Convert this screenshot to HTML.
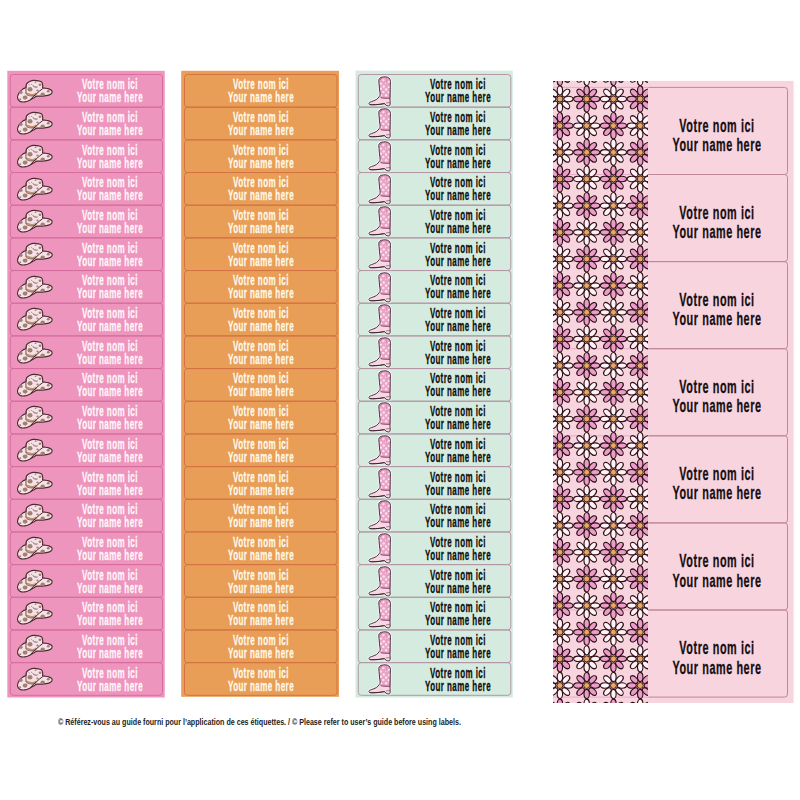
<!DOCTYPE html><html><head><meta charset="utf-8"><style>
*{margin:0;padding:0;box-sizing:border-box}
html,body{width:800px;height:800px;background:#fff;overflow:hidden;position:relative}
.sh{position:absolute}
.t{position:absolute;white-space:nowrap;font-family:"Liberation Sans",sans-serif;transform-origin:0 0;-webkit-text-stroke:0.3px currentColor}
.f{-webkit-text-stroke:0}
svg{position:absolute;overflow:visible}
</style></head><body><svg width="0" height="0" style="position:absolute"><defs>
<g id="fp"><ellipse cx="8.5" cy="0" rx="4.6" ry="2.7" transform="rotate(0)" fill="#EB9CC8" stroke="#2A1014" stroke-width="1.1"/><ellipse cx="8.5" cy="0" rx="4.6" ry="2.7" transform="rotate(45)" fill="#EB9CC8" stroke="#2A1014" stroke-width="1.1"/><ellipse cx="8.5" cy="0" rx="4.6" ry="2.7" transform="rotate(90)" fill="#EB9CC8" stroke="#2A1014" stroke-width="1.1"/><ellipse cx="8.5" cy="0" rx="4.6" ry="2.7" transform="rotate(135)" fill="#EB9CC8" stroke="#2A1014" stroke-width="1.1"/><ellipse cx="8.5" cy="0" rx="4.6" ry="2.7" transform="rotate(180)" fill="#EB9CC8" stroke="#2A1014" stroke-width="1.1"/><ellipse cx="8.5" cy="0" rx="4.6" ry="2.7" transform="rotate(225)" fill="#EB9CC8" stroke="#2A1014" stroke-width="1.1"/><ellipse cx="8.5" cy="0" rx="4.6" ry="2.7" transform="rotate(270)" fill="#EB9CC8" stroke="#2A1014" stroke-width="1.1"/><ellipse cx="8.5" cy="0" rx="4.6" ry="2.7" transform="rotate(315)" fill="#EB9CC8" stroke="#2A1014" stroke-width="1.1"/><circle r="3" fill="#EDA75C" stroke="#2A1014" stroke-width="0.9"/></g>
<g id="fw"><ellipse cx="8.5" cy="0" rx="4.6" ry="2.7" transform="rotate(0)" fill="#FFF0F5" stroke="#2A1014" stroke-width="1.1"/><ellipse cx="8.5" cy="0" rx="4.6" ry="2.7" transform="rotate(45)" fill="#FFF0F5" stroke="#2A1014" stroke-width="1.1"/><ellipse cx="8.5" cy="0" rx="4.6" ry="2.7" transform="rotate(90)" fill="#FFF0F5" stroke="#2A1014" stroke-width="1.1"/><ellipse cx="8.5" cy="0" rx="4.6" ry="2.7" transform="rotate(135)" fill="#FFF0F5" stroke="#2A1014" stroke-width="1.1"/><ellipse cx="8.5" cy="0" rx="4.6" ry="2.7" transform="rotate(180)" fill="#FFF0F5" stroke="#2A1014" stroke-width="1.1"/><ellipse cx="8.5" cy="0" rx="4.6" ry="2.7" transform="rotate(225)" fill="#FFF0F5" stroke="#2A1014" stroke-width="1.1"/><ellipse cx="8.5" cy="0" rx="4.6" ry="2.7" transform="rotate(270)" fill="#FFF0F5" stroke="#2A1014" stroke-width="1.1"/><ellipse cx="8.5" cy="0" rx="4.6" ry="2.7" transform="rotate(315)" fill="#FFF0F5" stroke="#2A1014" stroke-width="1.1"/><circle r="3" fill="#EDA75C" stroke="#2A1014" stroke-width="0.9"/></g>
<g id="hat">
<path d="M7.5,22.65 C7.58,24.07 8.54,25.44 9.75,26.15 C10.96,26.86 13.08,27.07 14.75,26.9 C16.42,26.73 18.08,25.94 19.75,25.15 C21.42,24.36 23.5,22.82 24.75,22.15 C26,21.48 26,21.32 27.25,21.15 C28.5,20.98 30.33,21.32 32.25,21.15 C34.17,20.98 37.17,20.65 38.75,20.15 C40.33,19.65 41.25,18.9 41.75,18.15 C42.25,17.4 42.25,16.36 41.75,15.65 C41.25,14.94 39.92,14.32 38.75,13.9 C37.58,13.48 35.77,13.3 34.75,13.15 C33.73,13 32.93,13.42 32.6,13 C32.27,12.58 32.89,11.62 32.75,10.65 C32.61,9.68 32.42,7.94 31.75,7.15 C31.08,6.36 30.08,6.19 28.75,5.9 C27.42,5.61 25.25,5.32 23.75,5.4 C22.25,5.48 20.92,5.86 19.75,6.4 C18.58,6.94 17.38,7.78 16.75,8.65 C16.12,9.53 16.17,10.98 16,11.65 C15.83,12.32 16.29,12.23 15.75,12.65 C15.21,13.07 13.83,13.32 12.75,14.15 C11.67,14.98 10.12,16.23 9.25,17.65 C8.38,19.07 7.42,21.23 7.5,22.65Z" fill="#F6E2E6" stroke="#4E2A32" stroke-width="1.15"/>
<g fill="#A08272">
<ellipse cx="20" cy="14.3" rx="2.5" ry="2.3"/>
<ellipse cx="15.1" cy="22.6" rx="2.4" ry="2.1"/>
<ellipse cx="11" cy="17.2" rx="1.6" ry="1.7"/>
<ellipse cx="32.75" cy="19.3" rx="2.2" ry="1.7"/>
<ellipse cx="38.3" cy="16.3" rx="1.5" ry="1.2"/>
<ellipse cx="30" cy="9.8" rx="1.4" ry="1.3"/>
<ellipse cx="10.2" cy="24.2" rx="1" ry="0.9"/>
<ellipse cx="25.5" cy="7.3" rx="1" ry="0.8"/>
<ellipse cx="27.5" cy="15.5" rx="1.2" ry="1"/>
</g>
<path d="M16.3,18.4 C18.5,19.4 21,20.1 23,19.9 C24.5,19.7 25.6,19.1 26.6,18.3" fill="none" stroke="#C09474" stroke-width="2.1"/>
<path d="M16.2,19.7 C18.5,20.7 21,21.2 23,21 C24.5,20.8 25.6,20.2 26.2,19.7" fill="none" stroke="#5A3038" stroke-width="0.6"/>
<path d="M16.25,10.5 C15.9,13.5 15.8,16.5 16,19" fill="none" stroke="#4E2A32" stroke-width="0.8"/>
<path d="M20.2,24.6 C24,21 28.5,16.5 32.75,13.6" fill="none" stroke="#4E2A32" stroke-width="1"/>
<path d="M23,10.3 C23.3,11.2 23.8,11.7 24.6,11.9 C25.8,12.2 26.8,12.2 27.6,11.9" fill="none" stroke="#4E2A32" stroke-width="0.7"/>
<path d="M18.6,9.6 L19.6,10.2 M21.3,9.2 L22.2,9.7" fill="none" stroke="#4E2A32" stroke-width="0.6"/>
</g>
<g id="boot">
<path d="M20.9,4.6 C21.12,3.9 21.7,3.2 22.2,2.8 C22.7,2.4 22.98,2.36 23.9,2.2 C24.82,2.04 26.53,1.72 27.7,1.85 C28.87,1.98 30.12,2.38 30.9,3 C31.68,3.62 32.16,4.6 32.4,5.6 C32.64,6.6 32.38,7.27 32.35,9 C32.32,10.73 32.26,13.63 32.2,16 C32.14,18.37 32.05,20.8 32,23.2 C31.95,25.6 32.53,29.2 31.9,30.4 C31.27,31.6 29.11,30.69 28.2,30.4 C27.29,30.11 27.62,28.8 26.45,28.65 C25.28,28.5 23.18,29.31 21.2,29.5 C19.22,29.69 16.17,29.78 14.6,29.8 C13.03,29.82 12.41,29.78 11.8,29.6 C11.19,29.42 11,29.07 10.95,28.7 C10.9,28.33 11.07,27.75 11.5,27.4 C11.93,27.05 12.37,27.07 13.5,26.6 C14.63,26.13 17,25.45 18.3,24.6 C19.6,23.75 20.67,22.37 21.3,21.5 C21.93,20.63 22.05,20.48 22.1,19.4 C22.15,18.32 21.8,17.07 21.6,15 C21.4,12.93 21.02,8.73 20.9,7 C20.78,5.27 20.68,5.3 20.9,4.6Z" fill="none" stroke="#F2FBF6" stroke-width="2.4"/>
<path d="M20.9,4.6 C21.12,3.9 21.7,3.2 22.2,2.8 C22.7,2.4 22.98,2.36 23.9,2.2 C24.82,2.04 26.53,1.72 27.7,1.85 C28.87,1.98 30.12,2.38 30.9,3 C31.68,3.62 32.16,4.6 32.4,5.6 C32.64,6.6 32.38,7.27 32.35,9 C32.32,10.73 32.26,13.63 32.2,16 C32.14,18.37 32.05,20.8 32,23.2 C31.95,25.6 32.53,29.2 31.9,30.4 C31.27,31.6 29.11,30.69 28.2,30.4 C27.29,30.11 27.62,28.8 26.45,28.65 C25.28,28.5 23.18,29.31 21.2,29.5 C19.22,29.69 16.17,29.78 14.6,29.8 C13.03,29.82 12.41,29.78 11.8,29.6 C11.19,29.42 11,29.07 10.95,28.7 C10.9,28.33 11.07,27.75 11.5,27.4 C11.93,27.05 12.37,27.07 13.5,26.6 C14.63,26.13 17,25.45 18.3,24.6 C19.6,23.75 20.67,22.37 21.3,21.5 C21.93,20.63 22.05,20.48 22.1,19.4 C22.15,18.32 21.8,17.07 21.6,15 C21.4,12.93 21.02,8.73 20.9,7 C20.78,5.27 20.68,5.3 20.9,4.6Z" fill="#F8D6E4"/>
<path d="M20.9,4.6 C21.12,3.9 21.7,3.2 22.2,2.8 C22.7,2.4 22.98,2.36 23.9,2.2 C24.82,2.04 26.53,1.72 27.7,1.85 C28.87,1.98 30.12,2.38 30.9,3 C31.68,3.62 32.16,4.6 32.4,5.6 C32.64,6.6 32.38,7.27 32.35,9 C32.32,10.73 32.26,13.63 32.2,16 C32.14,18.37 33.55,22.07 32,23.2 C30.45,24.33 24.55,23.43 22.9,22.8 C21.25,22.17 22.32,20.7 22.1,19.4 C21.88,18.1 21.8,17.07 21.6,15 C21.4,12.93 21.02,8.73 20.9,7 C20.78,5.27 20.68,5.3 20.9,4.6Z" fill="#E9A3C5"/>
<g fill="#FAE2EE"><circle cx="22.9" cy="8.6" r="1.2"/><circle cx="25.4" cy="5.2" r="1.1"/><circle cx="30.9" cy="6.8" r="1.1"/><circle cx="25.7" cy="11.4" r="1.25"/><circle cx="28.4" cy="8.4" r="1.1"/><circle cx="30.9" cy="12.2" r="1.1"/><circle cx="22.9" cy="13.8" r="1.2"/><circle cx="28.1" cy="14.6" r="1.25"/><circle cx="25.3" cy="17.1" r="1.25"/><circle cx="30.5" cy="17.4" r="1.1"/><circle cx="23.3" cy="20.3" r="1"/><circle cx="28.1" cy="20.3" r="1.2"/></g>
<path d="M28.4,3.2 L28.7,10.2" stroke="#D48AB0" stroke-width="0.7"/>
<path d="M21.8,4.6 L23.6,3.4" stroke="#5A3040" stroke-width="0.6"/>
<path d="M22.7,22.7 C25,23.2 29,23.3 32,23.3" fill="none" stroke="#6E3A52" stroke-width="0.9"/>
<path d="M28,27.9 L32.1,27.5" stroke="#6A4858" stroke-width="0.6"/>
<path d="M26.45,28.65 L28.2,30.4" stroke="#4A2E3C" stroke-width="0.6"/>
<path d="M20.9,4.6 C21.12,3.9 21.7,3.2 22.2,2.8 C22.7,2.4 22.98,2.36 23.9,2.2 C24.82,2.04 26.53,1.72 27.7,1.85 C28.87,1.98 30.12,2.38 30.9,3 C31.68,3.62 32.16,4.6 32.4,5.6 C32.64,6.6 32.38,7.27 32.35,9 C32.32,10.73 32.26,13.63 32.2,16 C32.14,18.37 32.05,20.8 32,23.2 C31.95,25.6 32.53,29.2 31.9,30.4 C31.27,31.6 29.11,30.69 28.2,30.4 C27.29,30.11 27.62,28.8 26.45,28.65 C25.28,28.5 23.18,29.31 21.2,29.5 C19.22,29.69 16.17,29.78 14.6,29.8 C13.03,29.82 12.41,29.78 11.8,29.6 C11.19,29.42 11,29.07 10.95,28.7 C10.9,28.33 11.07,27.75 11.5,27.4 C11.93,27.05 12.37,27.07 13.5,26.6 C14.63,26.13 17,25.45 18.3,24.6 C19.6,23.75 20.67,22.37 21.3,21.5 C21.93,20.63 22.05,20.48 22.1,19.4 C22.15,18.32 21.8,17.07 21.6,15 C21.4,12.93 21.02,8.73 20.9,7 C20.78,5.27 20.68,5.3 20.9,4.6Z" fill="none" stroke="#45283A" stroke-width="0.95"/>
<path d="M11.8,29.6 C15,29.9 20,29.6 26.45,28.65" fill="none" stroke="#2E1A22" stroke-width="0.8"/>
</g>
</defs></svg><svg style="left:0;top:0" width="800" height="800"><rect x="7.3" y="70.8" width="157.45" height="626.7" fill="#EE95BE"/><rect x="10.25" y="74.5" width="152.25" height="32.67" rx="3" fill="none" stroke="#D86C9E" stroke-width="1"/><rect x="10.25" y="107.17" width="152.25" height="32.67" rx="3" fill="none" stroke="#D86C9E" stroke-width="1"/><rect x="10.25" y="139.85" width="152.25" height="32.67" rx="3" fill="none" stroke="#D86C9E" stroke-width="1"/><rect x="10.25" y="172.52" width="152.25" height="32.67" rx="3" fill="none" stroke="#D86C9E" stroke-width="1"/><rect x="10.25" y="205.19" width="152.25" height="32.67" rx="3" fill="none" stroke="#D86C9E" stroke-width="1"/><rect x="10.25" y="237.87" width="152.25" height="32.67" rx="3" fill="none" stroke="#D86C9E" stroke-width="1"/><rect x="10.25" y="270.54" width="152.25" height="32.67" rx="3" fill="none" stroke="#D86C9E" stroke-width="1"/><rect x="10.25" y="303.22" width="152.25" height="32.67" rx="3" fill="none" stroke="#D86C9E" stroke-width="1"/><rect x="10.25" y="335.89" width="152.25" height="32.67" rx="3" fill="none" stroke="#D86C9E" stroke-width="1"/><rect x="10.25" y="368.56" width="152.25" height="32.67" rx="3" fill="none" stroke="#D86C9E" stroke-width="1"/><rect x="10.25" y="401.24" width="152.25" height="32.67" rx="3" fill="none" stroke="#D86C9E" stroke-width="1"/><rect x="10.25" y="433.91" width="152.25" height="32.67" rx="3" fill="none" stroke="#D86C9E" stroke-width="1"/><rect x="10.25" y="466.58" width="152.25" height="32.67" rx="3" fill="none" stroke="#D86C9E" stroke-width="1"/><rect x="10.25" y="499.26" width="152.25" height="32.67" rx="3" fill="none" stroke="#D86C9E" stroke-width="1"/><rect x="10.25" y="531.93" width="152.25" height="32.67" rx="3" fill="none" stroke="#D86C9E" stroke-width="1"/><rect x="10.25" y="564.61" width="152.25" height="32.67" rx="3" fill="none" stroke="#D86C9E" stroke-width="1"/><rect x="10.25" y="597.28" width="152.25" height="32.67" rx="3" fill="none" stroke="#D86C9E" stroke-width="1"/><rect x="10.25" y="629.95" width="152.25" height="32.67" rx="3" fill="none" stroke="#D86C9E" stroke-width="1"/><rect x="10.25" y="662.63" width="152.25" height="32.67" rx="3" fill="none" stroke="#D86C9E" stroke-width="1"/><rect x="181.2" y="70.8" width="157.8" height="626" fill="#E89E56"/><rect x="184.5" y="74.5" width="152.5" height="32.67" rx="3" fill="none" stroke="#D47244" stroke-width="1"/><rect x="184.5" y="107.17" width="152.5" height="32.67" rx="3" fill="none" stroke="#D47244" stroke-width="1"/><rect x="184.5" y="139.85" width="152.5" height="32.67" rx="3" fill="none" stroke="#D47244" stroke-width="1"/><rect x="184.5" y="172.52" width="152.5" height="32.67" rx="3" fill="none" stroke="#D47244" stroke-width="1"/><rect x="184.5" y="205.19" width="152.5" height="32.67" rx="3" fill="none" stroke="#D47244" stroke-width="1"/><rect x="184.5" y="237.87" width="152.5" height="32.67" rx="3" fill="none" stroke="#D47244" stroke-width="1"/><rect x="184.5" y="270.54" width="152.5" height="32.67" rx="3" fill="none" stroke="#D47244" stroke-width="1"/><rect x="184.5" y="303.22" width="152.5" height="32.67" rx="3" fill="none" stroke="#D47244" stroke-width="1"/><rect x="184.5" y="335.89" width="152.5" height="32.67" rx="3" fill="none" stroke="#D47244" stroke-width="1"/><rect x="184.5" y="368.56" width="152.5" height="32.67" rx="3" fill="none" stroke="#D47244" stroke-width="1"/><rect x="184.5" y="401.24" width="152.5" height="32.67" rx="3" fill="none" stroke="#D47244" stroke-width="1"/><rect x="184.5" y="433.91" width="152.5" height="32.67" rx="3" fill="none" stroke="#D47244" stroke-width="1"/><rect x="184.5" y="466.58" width="152.5" height="32.67" rx="3" fill="none" stroke="#D47244" stroke-width="1"/><rect x="184.5" y="499.26" width="152.5" height="32.67" rx="3" fill="none" stroke="#D47244" stroke-width="1"/><rect x="184.5" y="531.93" width="152.5" height="32.67" rx="3" fill="none" stroke="#D47244" stroke-width="1"/><rect x="184.5" y="564.61" width="152.5" height="32.67" rx="3" fill="none" stroke="#D47244" stroke-width="1"/><rect x="184.5" y="597.28" width="152.5" height="32.67" rx="3" fill="none" stroke="#D47244" stroke-width="1"/><rect x="184.5" y="629.95" width="152.5" height="32.67" rx="3" fill="none" stroke="#D47244" stroke-width="1"/><rect x="184.5" y="662.63" width="152.5" height="32.67" rx="3" fill="none" stroke="#D47244" stroke-width="1"/><rect x="355.5" y="70.6" width="157.3" height="626.9" fill="#D6EBE0"/><rect x="358.3" y="74.5" width="152.5" height="32.67" rx="3" fill="none" stroke="#B496A6" stroke-width="1"/><rect x="358.3" y="107.17" width="152.5" height="32.67" rx="3" fill="none" stroke="#B496A6" stroke-width="1"/><rect x="358.3" y="139.85" width="152.5" height="32.67" rx="3" fill="none" stroke="#B496A6" stroke-width="1"/><rect x="358.3" y="172.52" width="152.5" height="32.67" rx="3" fill="none" stroke="#B496A6" stroke-width="1"/><rect x="358.3" y="205.19" width="152.5" height="32.67" rx="3" fill="none" stroke="#B496A6" stroke-width="1"/><rect x="358.3" y="237.87" width="152.5" height="32.67" rx="3" fill="none" stroke="#B496A6" stroke-width="1"/><rect x="358.3" y="270.54" width="152.5" height="32.67" rx="3" fill="none" stroke="#B496A6" stroke-width="1"/><rect x="358.3" y="303.22" width="152.5" height="32.67" rx="3" fill="none" stroke="#B496A6" stroke-width="1"/><rect x="358.3" y="335.89" width="152.5" height="32.67" rx="3" fill="none" stroke="#B496A6" stroke-width="1"/><rect x="358.3" y="368.56" width="152.5" height="32.67" rx="3" fill="none" stroke="#B496A6" stroke-width="1"/><rect x="358.3" y="401.24" width="152.5" height="32.67" rx="3" fill="none" stroke="#B496A6" stroke-width="1"/><rect x="358.3" y="433.91" width="152.5" height="32.67" rx="3" fill="none" stroke="#B496A6" stroke-width="1"/><rect x="358.3" y="466.58" width="152.5" height="32.67" rx="3" fill="none" stroke="#B496A6" stroke-width="1"/><rect x="358.3" y="499.26" width="152.5" height="32.67" rx="3" fill="none" stroke="#B496A6" stroke-width="1"/><rect x="358.3" y="531.93" width="152.5" height="32.67" rx="3" fill="none" stroke="#B496A6" stroke-width="1"/><rect x="358.3" y="564.61" width="152.5" height="32.67" rx="3" fill="none" stroke="#B496A6" stroke-width="1"/><rect x="358.3" y="597.28" width="152.5" height="32.67" rx="3" fill="none" stroke="#B496A6" stroke-width="1"/><rect x="358.3" y="629.95" width="152.5" height="32.67" rx="3" fill="none" stroke="#B496A6" stroke-width="1"/><rect x="358.3" y="662.63" width="152.5" height="32.67" rx="3" fill="none" stroke="#B496A6" stroke-width="1"/><rect x="553" y="80.9" width="240.6" height="622.1" fill="#F8D4DF"/></svg><svg style="left:10.25px;top:74.5px" width="48" height="34"><use href="#hat"/></svg><div class="t" style="left:109.5px;top:77.43px;font-size:14.5px;line-height:14.5px;color:#FFF6FA;font-weight:bold;letter-spacing:0.8px;transform:scaleX(0.552) translateX(-50%)">Votre nom ici</div><div class="t" style="left:109.5px;top:90.43px;font-size:14.5px;line-height:14.5px;color:#FFF6FA;font-weight:bold;letter-spacing:0.8px;transform:scaleX(0.552) translateX(-50%)">Your name here</div><svg style="left:10.25px;top:107.17px" width="48" height="34"><use href="#hat"/></svg><div class="t" style="left:109.5px;top:110.1px;font-size:14.5px;line-height:14.5px;color:#FFF6FA;font-weight:bold;letter-spacing:0.8px;transform:scaleX(0.552) translateX(-50%)">Votre nom ici</div><div class="t" style="left:109.5px;top:123.1px;font-size:14.5px;line-height:14.5px;color:#FFF6FA;font-weight:bold;letter-spacing:0.8px;transform:scaleX(0.552) translateX(-50%)">Your name here</div><svg style="left:10.25px;top:139.85px" width="48" height="34"><use href="#hat"/></svg><div class="t" style="left:109.5px;top:142.77px;font-size:14.5px;line-height:14.5px;color:#FFF6FA;font-weight:bold;letter-spacing:0.8px;transform:scaleX(0.552) translateX(-50%)">Votre nom ici</div><div class="t" style="left:109.5px;top:155.77px;font-size:14.5px;line-height:14.5px;color:#FFF6FA;font-weight:bold;letter-spacing:0.8px;transform:scaleX(0.552) translateX(-50%)">Your name here</div><svg style="left:10.25px;top:172.52px" width="48" height="34"><use href="#hat"/></svg><div class="t" style="left:109.5px;top:175.45px;font-size:14.5px;line-height:14.5px;color:#FFF6FA;font-weight:bold;letter-spacing:0.8px;transform:scaleX(0.552) translateX(-50%)">Votre nom ici</div><div class="t" style="left:109.5px;top:188.45px;font-size:14.5px;line-height:14.5px;color:#FFF6FA;font-weight:bold;letter-spacing:0.8px;transform:scaleX(0.552) translateX(-50%)">Your name here</div><svg style="left:10.25px;top:205.19px" width="48" height="34"><use href="#hat"/></svg><div class="t" style="left:109.5px;top:208.12px;font-size:14.5px;line-height:14.5px;color:#FFF6FA;font-weight:bold;letter-spacing:0.8px;transform:scaleX(0.552) translateX(-50%)">Votre nom ici</div><div class="t" style="left:109.5px;top:221.12px;font-size:14.5px;line-height:14.5px;color:#FFF6FA;font-weight:bold;letter-spacing:0.8px;transform:scaleX(0.552) translateX(-50%)">Your name here</div><svg style="left:10.25px;top:237.87px" width="48" height="34"><use href="#hat"/></svg><div class="t" style="left:109.5px;top:240.79px;font-size:14.5px;line-height:14.5px;color:#FFF6FA;font-weight:bold;letter-spacing:0.8px;transform:scaleX(0.552) translateX(-50%)">Votre nom ici</div><div class="t" style="left:109.5px;top:253.79px;font-size:14.5px;line-height:14.5px;color:#FFF6FA;font-weight:bold;letter-spacing:0.8px;transform:scaleX(0.552) translateX(-50%)">Your name here</div><svg style="left:10.25px;top:270.54px" width="48" height="34"><use href="#hat"/></svg><div class="t" style="left:109.5px;top:273.47px;font-size:14.5px;line-height:14.5px;color:#FFF6FA;font-weight:bold;letter-spacing:0.8px;transform:scaleX(0.552) translateX(-50%)">Votre nom ici</div><div class="t" style="left:109.5px;top:286.47px;font-size:14.5px;line-height:14.5px;color:#FFF6FA;font-weight:bold;letter-spacing:0.8px;transform:scaleX(0.552) translateX(-50%)">Your name here</div><svg style="left:10.25px;top:303.22px" width="48" height="34"><use href="#hat"/></svg><div class="t" style="left:109.5px;top:306.14px;font-size:14.5px;line-height:14.5px;color:#FFF6FA;font-weight:bold;letter-spacing:0.8px;transform:scaleX(0.552) translateX(-50%)">Votre nom ici</div><div class="t" style="left:109.5px;top:319.14px;font-size:14.5px;line-height:14.5px;color:#FFF6FA;font-weight:bold;letter-spacing:0.8px;transform:scaleX(0.552) translateX(-50%)">Your name here</div><svg style="left:10.25px;top:335.89px" width="48" height="34"><use href="#hat"/></svg><div class="t" style="left:109.5px;top:338.82px;font-size:14.5px;line-height:14.5px;color:#FFF6FA;font-weight:bold;letter-spacing:0.8px;transform:scaleX(0.552) translateX(-50%)">Votre nom ici</div><div class="t" style="left:109.5px;top:351.82px;font-size:14.5px;line-height:14.5px;color:#FFF6FA;font-weight:bold;letter-spacing:0.8px;transform:scaleX(0.552) translateX(-50%)">Your name here</div><svg style="left:10.25px;top:368.56px" width="48" height="34"><use href="#hat"/></svg><div class="t" style="left:109.5px;top:371.49px;font-size:14.5px;line-height:14.5px;color:#FFF6FA;font-weight:bold;letter-spacing:0.8px;transform:scaleX(0.552) translateX(-50%)">Votre nom ici</div><div class="t" style="left:109.5px;top:384.49px;font-size:14.5px;line-height:14.5px;color:#FFF6FA;font-weight:bold;letter-spacing:0.8px;transform:scaleX(0.552) translateX(-50%)">Your name here</div><svg style="left:10.25px;top:401.24px" width="48" height="34"><use href="#hat"/></svg><div class="t" style="left:109.5px;top:404.16px;font-size:14.5px;line-height:14.5px;color:#FFF6FA;font-weight:bold;letter-spacing:0.8px;transform:scaleX(0.552) translateX(-50%)">Votre nom ici</div><div class="t" style="left:109.5px;top:417.16px;font-size:14.5px;line-height:14.5px;color:#FFF6FA;font-weight:bold;letter-spacing:0.8px;transform:scaleX(0.552) translateX(-50%)">Your name here</div><svg style="left:10.25px;top:433.91px" width="48" height="34"><use href="#hat"/></svg><div class="t" style="left:109.5px;top:436.84px;font-size:14.5px;line-height:14.5px;color:#FFF6FA;font-weight:bold;letter-spacing:0.8px;transform:scaleX(0.552) translateX(-50%)">Votre nom ici</div><div class="t" style="left:109.5px;top:449.84px;font-size:14.5px;line-height:14.5px;color:#FFF6FA;font-weight:bold;letter-spacing:0.8px;transform:scaleX(0.552) translateX(-50%)">Your name here</div><svg style="left:10.25px;top:466.58px" width="48" height="34"><use href="#hat"/></svg><div class="t" style="left:109.5px;top:469.51px;font-size:14.5px;line-height:14.5px;color:#FFF6FA;font-weight:bold;letter-spacing:0.8px;transform:scaleX(0.552) translateX(-50%)">Votre nom ici</div><div class="t" style="left:109.5px;top:482.51px;font-size:14.5px;line-height:14.5px;color:#FFF6FA;font-weight:bold;letter-spacing:0.8px;transform:scaleX(0.552) translateX(-50%)">Your name here</div><svg style="left:10.25px;top:499.26px" width="48" height="34"><use href="#hat"/></svg><div class="t" style="left:109.5px;top:502.18px;font-size:14.5px;line-height:14.5px;color:#FFF6FA;font-weight:bold;letter-spacing:0.8px;transform:scaleX(0.552) translateX(-50%)">Votre nom ici</div><div class="t" style="left:109.5px;top:515.18px;font-size:14.5px;line-height:14.5px;color:#FFF6FA;font-weight:bold;letter-spacing:0.8px;transform:scaleX(0.552) translateX(-50%)">Your name here</div><svg style="left:10.25px;top:531.93px" width="48" height="34"><use href="#hat"/></svg><div class="t" style="left:109.5px;top:534.86px;font-size:14.5px;line-height:14.5px;color:#FFF6FA;font-weight:bold;letter-spacing:0.8px;transform:scaleX(0.552) translateX(-50%)">Votre nom ici</div><div class="t" style="left:109.5px;top:547.86px;font-size:14.5px;line-height:14.5px;color:#FFF6FA;font-weight:bold;letter-spacing:0.8px;transform:scaleX(0.552) translateX(-50%)">Your name here</div><svg style="left:10.25px;top:564.61px" width="48" height="34"><use href="#hat"/></svg><div class="t" style="left:109.5px;top:567.53px;font-size:14.5px;line-height:14.5px;color:#FFF6FA;font-weight:bold;letter-spacing:0.8px;transform:scaleX(0.552) translateX(-50%)">Votre nom ici</div><div class="t" style="left:109.5px;top:580.53px;font-size:14.5px;line-height:14.5px;color:#FFF6FA;font-weight:bold;letter-spacing:0.8px;transform:scaleX(0.552) translateX(-50%)">Your name here</div><svg style="left:10.25px;top:597.28px" width="48" height="34"><use href="#hat"/></svg><div class="t" style="left:109.5px;top:600.2px;font-size:14.5px;line-height:14.5px;color:#FFF6FA;font-weight:bold;letter-spacing:0.8px;transform:scaleX(0.552) translateX(-50%)">Votre nom ici</div><div class="t" style="left:109.5px;top:613.2px;font-size:14.5px;line-height:14.5px;color:#FFF6FA;font-weight:bold;letter-spacing:0.8px;transform:scaleX(0.552) translateX(-50%)">Your name here</div><svg style="left:10.25px;top:629.95px" width="48" height="34"><use href="#hat"/></svg><div class="t" style="left:109.5px;top:632.88px;font-size:14.5px;line-height:14.5px;color:#FFF6FA;font-weight:bold;letter-spacing:0.8px;transform:scaleX(0.552) translateX(-50%)">Votre nom ici</div><div class="t" style="left:109.5px;top:645.88px;font-size:14.5px;line-height:14.5px;color:#FFF6FA;font-weight:bold;letter-spacing:0.8px;transform:scaleX(0.552) translateX(-50%)">Your name here</div><svg style="left:10.25px;top:662.63px" width="48" height="34"><use href="#hat"/></svg><div class="t" style="left:109.5px;top:665.55px;font-size:14.5px;line-height:14.5px;color:#FFF6FA;font-weight:bold;letter-spacing:0.8px;transform:scaleX(0.552) translateX(-50%)">Votre nom ici</div><div class="t" style="left:109.5px;top:678.55px;font-size:14.5px;line-height:14.5px;color:#FFF6FA;font-weight:bold;letter-spacing:0.8px;transform:scaleX(0.552) translateX(-50%)">Your name here</div><div class="t" style="left:260.8px;top:77.43px;font-size:14.5px;line-height:14.5px;color:#FFF8EA;font-weight:bold;letter-spacing:0.8px;transform:scaleX(0.552) translateX(-50%)">Votre nom ici</div><div class="t" style="left:260.8px;top:90.43px;font-size:14.5px;line-height:14.5px;color:#FFF8EA;font-weight:bold;letter-spacing:0.8px;transform:scaleX(0.552) translateX(-50%)">Your name here</div><div class="t" style="left:260.8px;top:110.1px;font-size:14.5px;line-height:14.5px;color:#FFF8EA;font-weight:bold;letter-spacing:0.8px;transform:scaleX(0.552) translateX(-50%)">Votre nom ici</div><div class="t" style="left:260.8px;top:123.1px;font-size:14.5px;line-height:14.5px;color:#FFF8EA;font-weight:bold;letter-spacing:0.8px;transform:scaleX(0.552) translateX(-50%)">Your name here</div><div class="t" style="left:260.8px;top:142.77px;font-size:14.5px;line-height:14.5px;color:#FFF8EA;font-weight:bold;letter-spacing:0.8px;transform:scaleX(0.552) translateX(-50%)">Votre nom ici</div><div class="t" style="left:260.8px;top:155.77px;font-size:14.5px;line-height:14.5px;color:#FFF8EA;font-weight:bold;letter-spacing:0.8px;transform:scaleX(0.552) translateX(-50%)">Your name here</div><div class="t" style="left:260.8px;top:175.45px;font-size:14.5px;line-height:14.5px;color:#FFF8EA;font-weight:bold;letter-spacing:0.8px;transform:scaleX(0.552) translateX(-50%)">Votre nom ici</div><div class="t" style="left:260.8px;top:188.45px;font-size:14.5px;line-height:14.5px;color:#FFF8EA;font-weight:bold;letter-spacing:0.8px;transform:scaleX(0.552) translateX(-50%)">Your name here</div><div class="t" style="left:260.8px;top:208.12px;font-size:14.5px;line-height:14.5px;color:#FFF8EA;font-weight:bold;letter-spacing:0.8px;transform:scaleX(0.552) translateX(-50%)">Votre nom ici</div><div class="t" style="left:260.8px;top:221.12px;font-size:14.5px;line-height:14.5px;color:#FFF8EA;font-weight:bold;letter-spacing:0.8px;transform:scaleX(0.552) translateX(-50%)">Your name here</div><div class="t" style="left:260.8px;top:240.79px;font-size:14.5px;line-height:14.5px;color:#FFF8EA;font-weight:bold;letter-spacing:0.8px;transform:scaleX(0.552) translateX(-50%)">Votre nom ici</div><div class="t" style="left:260.8px;top:253.79px;font-size:14.5px;line-height:14.5px;color:#FFF8EA;font-weight:bold;letter-spacing:0.8px;transform:scaleX(0.552) translateX(-50%)">Your name here</div><div class="t" style="left:260.8px;top:273.47px;font-size:14.5px;line-height:14.5px;color:#FFF8EA;font-weight:bold;letter-spacing:0.8px;transform:scaleX(0.552) translateX(-50%)">Votre nom ici</div><div class="t" style="left:260.8px;top:286.47px;font-size:14.5px;line-height:14.5px;color:#FFF8EA;font-weight:bold;letter-spacing:0.8px;transform:scaleX(0.552) translateX(-50%)">Your name here</div><div class="t" style="left:260.8px;top:306.14px;font-size:14.5px;line-height:14.5px;color:#FFF8EA;font-weight:bold;letter-spacing:0.8px;transform:scaleX(0.552) translateX(-50%)">Votre nom ici</div><div class="t" style="left:260.8px;top:319.14px;font-size:14.5px;line-height:14.5px;color:#FFF8EA;font-weight:bold;letter-spacing:0.8px;transform:scaleX(0.552) translateX(-50%)">Your name here</div><div class="t" style="left:260.8px;top:338.82px;font-size:14.5px;line-height:14.5px;color:#FFF8EA;font-weight:bold;letter-spacing:0.8px;transform:scaleX(0.552) translateX(-50%)">Votre nom ici</div><div class="t" style="left:260.8px;top:351.82px;font-size:14.5px;line-height:14.5px;color:#FFF8EA;font-weight:bold;letter-spacing:0.8px;transform:scaleX(0.552) translateX(-50%)">Your name here</div><div class="t" style="left:260.8px;top:371.49px;font-size:14.5px;line-height:14.5px;color:#FFF8EA;font-weight:bold;letter-spacing:0.8px;transform:scaleX(0.552) translateX(-50%)">Votre nom ici</div><div class="t" style="left:260.8px;top:384.49px;font-size:14.5px;line-height:14.5px;color:#FFF8EA;font-weight:bold;letter-spacing:0.8px;transform:scaleX(0.552) translateX(-50%)">Your name here</div><div class="t" style="left:260.8px;top:404.16px;font-size:14.5px;line-height:14.5px;color:#FFF8EA;font-weight:bold;letter-spacing:0.8px;transform:scaleX(0.552) translateX(-50%)">Votre nom ici</div><div class="t" style="left:260.8px;top:417.16px;font-size:14.5px;line-height:14.5px;color:#FFF8EA;font-weight:bold;letter-spacing:0.8px;transform:scaleX(0.552) translateX(-50%)">Your name here</div><div class="t" style="left:260.8px;top:436.84px;font-size:14.5px;line-height:14.5px;color:#FFF8EA;font-weight:bold;letter-spacing:0.8px;transform:scaleX(0.552) translateX(-50%)">Votre nom ici</div><div class="t" style="left:260.8px;top:449.84px;font-size:14.5px;line-height:14.5px;color:#FFF8EA;font-weight:bold;letter-spacing:0.8px;transform:scaleX(0.552) translateX(-50%)">Your name here</div><div class="t" style="left:260.8px;top:469.51px;font-size:14.5px;line-height:14.5px;color:#FFF8EA;font-weight:bold;letter-spacing:0.8px;transform:scaleX(0.552) translateX(-50%)">Votre nom ici</div><div class="t" style="left:260.8px;top:482.51px;font-size:14.5px;line-height:14.5px;color:#FFF8EA;font-weight:bold;letter-spacing:0.8px;transform:scaleX(0.552) translateX(-50%)">Your name here</div><div class="t" style="left:260.8px;top:502.18px;font-size:14.5px;line-height:14.5px;color:#FFF8EA;font-weight:bold;letter-spacing:0.8px;transform:scaleX(0.552) translateX(-50%)">Votre nom ici</div><div class="t" style="left:260.8px;top:515.18px;font-size:14.5px;line-height:14.5px;color:#FFF8EA;font-weight:bold;letter-spacing:0.8px;transform:scaleX(0.552) translateX(-50%)">Your name here</div><div class="t" style="left:260.8px;top:534.86px;font-size:14.5px;line-height:14.5px;color:#FFF8EA;font-weight:bold;letter-spacing:0.8px;transform:scaleX(0.552) translateX(-50%)">Votre nom ici</div><div class="t" style="left:260.8px;top:547.86px;font-size:14.5px;line-height:14.5px;color:#FFF8EA;font-weight:bold;letter-spacing:0.8px;transform:scaleX(0.552) translateX(-50%)">Your name here</div><div class="t" style="left:260.8px;top:567.53px;font-size:14.5px;line-height:14.5px;color:#FFF8EA;font-weight:bold;letter-spacing:0.8px;transform:scaleX(0.552) translateX(-50%)">Votre nom ici</div><div class="t" style="left:260.8px;top:580.53px;font-size:14.5px;line-height:14.5px;color:#FFF8EA;font-weight:bold;letter-spacing:0.8px;transform:scaleX(0.552) translateX(-50%)">Your name here</div><div class="t" style="left:260.8px;top:600.2px;font-size:14.5px;line-height:14.5px;color:#FFF8EA;font-weight:bold;letter-spacing:0.8px;transform:scaleX(0.552) translateX(-50%)">Votre nom ici</div><div class="t" style="left:260.8px;top:613.2px;font-size:14.5px;line-height:14.5px;color:#FFF8EA;font-weight:bold;letter-spacing:0.8px;transform:scaleX(0.552) translateX(-50%)">Your name here</div><div class="t" style="left:260.8px;top:632.88px;font-size:14.5px;line-height:14.5px;color:#FFF8EA;font-weight:bold;letter-spacing:0.8px;transform:scaleX(0.552) translateX(-50%)">Votre nom ici</div><div class="t" style="left:260.8px;top:645.88px;font-size:14.5px;line-height:14.5px;color:#FFF8EA;font-weight:bold;letter-spacing:0.8px;transform:scaleX(0.552) translateX(-50%)">Your name here</div><div class="t" style="left:260.8px;top:665.55px;font-size:14.5px;line-height:14.5px;color:#FFF8EA;font-weight:bold;letter-spacing:0.8px;transform:scaleX(0.552) translateX(-50%)">Votre nom ici</div><div class="t" style="left:260.8px;top:678.55px;font-size:14.5px;line-height:14.5px;color:#FFF8EA;font-weight:bold;letter-spacing:0.8px;transform:scaleX(0.552) translateX(-50%)">Your name here</div><svg style="left:358.3px;top:74.5px" width="48" height="34"><use href="#boot"/></svg><div class="t" style="left:457.5px;top:77.43px;font-size:14.5px;line-height:14.5px;color:#0E0E0E;font-weight:bold;letter-spacing:0.8px;transform:scaleX(0.552) translateX(-50%)">Votre nom ici</div><div class="t" style="left:457.5px;top:90.43px;font-size:14.5px;line-height:14.5px;color:#0E0E0E;font-weight:bold;letter-spacing:0.8px;transform:scaleX(0.552) translateX(-50%)">Your name here</div><svg style="left:358.3px;top:107.17px" width="48" height="34"><use href="#boot"/></svg><div class="t" style="left:457.5px;top:110.1px;font-size:14.5px;line-height:14.5px;color:#0E0E0E;font-weight:bold;letter-spacing:0.8px;transform:scaleX(0.552) translateX(-50%)">Votre nom ici</div><div class="t" style="left:457.5px;top:123.1px;font-size:14.5px;line-height:14.5px;color:#0E0E0E;font-weight:bold;letter-spacing:0.8px;transform:scaleX(0.552) translateX(-50%)">Your name here</div><svg style="left:358.3px;top:139.85px" width="48" height="34"><use href="#boot"/></svg><div class="t" style="left:457.5px;top:142.77px;font-size:14.5px;line-height:14.5px;color:#0E0E0E;font-weight:bold;letter-spacing:0.8px;transform:scaleX(0.552) translateX(-50%)">Votre nom ici</div><div class="t" style="left:457.5px;top:155.77px;font-size:14.5px;line-height:14.5px;color:#0E0E0E;font-weight:bold;letter-spacing:0.8px;transform:scaleX(0.552) translateX(-50%)">Your name here</div><svg style="left:358.3px;top:172.52px" width="48" height="34"><use href="#boot"/></svg><div class="t" style="left:457.5px;top:175.45px;font-size:14.5px;line-height:14.5px;color:#0E0E0E;font-weight:bold;letter-spacing:0.8px;transform:scaleX(0.552) translateX(-50%)">Votre nom ici</div><div class="t" style="left:457.5px;top:188.45px;font-size:14.5px;line-height:14.5px;color:#0E0E0E;font-weight:bold;letter-spacing:0.8px;transform:scaleX(0.552) translateX(-50%)">Your name here</div><svg style="left:358.3px;top:205.19px" width="48" height="34"><use href="#boot"/></svg><div class="t" style="left:457.5px;top:208.12px;font-size:14.5px;line-height:14.5px;color:#0E0E0E;font-weight:bold;letter-spacing:0.8px;transform:scaleX(0.552) translateX(-50%)">Votre nom ici</div><div class="t" style="left:457.5px;top:221.12px;font-size:14.5px;line-height:14.5px;color:#0E0E0E;font-weight:bold;letter-spacing:0.8px;transform:scaleX(0.552) translateX(-50%)">Your name here</div><svg style="left:358.3px;top:237.87px" width="48" height="34"><use href="#boot"/></svg><div class="t" style="left:457.5px;top:240.79px;font-size:14.5px;line-height:14.5px;color:#0E0E0E;font-weight:bold;letter-spacing:0.8px;transform:scaleX(0.552) translateX(-50%)">Votre nom ici</div><div class="t" style="left:457.5px;top:253.79px;font-size:14.5px;line-height:14.5px;color:#0E0E0E;font-weight:bold;letter-spacing:0.8px;transform:scaleX(0.552) translateX(-50%)">Your name here</div><svg style="left:358.3px;top:270.54px" width="48" height="34"><use href="#boot"/></svg><div class="t" style="left:457.5px;top:273.47px;font-size:14.5px;line-height:14.5px;color:#0E0E0E;font-weight:bold;letter-spacing:0.8px;transform:scaleX(0.552) translateX(-50%)">Votre nom ici</div><div class="t" style="left:457.5px;top:286.47px;font-size:14.5px;line-height:14.5px;color:#0E0E0E;font-weight:bold;letter-spacing:0.8px;transform:scaleX(0.552) translateX(-50%)">Your name here</div><svg style="left:358.3px;top:303.22px" width="48" height="34"><use href="#boot"/></svg><div class="t" style="left:457.5px;top:306.14px;font-size:14.5px;line-height:14.5px;color:#0E0E0E;font-weight:bold;letter-spacing:0.8px;transform:scaleX(0.552) translateX(-50%)">Votre nom ici</div><div class="t" style="left:457.5px;top:319.14px;font-size:14.5px;line-height:14.5px;color:#0E0E0E;font-weight:bold;letter-spacing:0.8px;transform:scaleX(0.552) translateX(-50%)">Your name here</div><svg style="left:358.3px;top:335.89px" width="48" height="34"><use href="#boot"/></svg><div class="t" style="left:457.5px;top:338.82px;font-size:14.5px;line-height:14.5px;color:#0E0E0E;font-weight:bold;letter-spacing:0.8px;transform:scaleX(0.552) translateX(-50%)">Votre nom ici</div><div class="t" style="left:457.5px;top:351.82px;font-size:14.5px;line-height:14.5px;color:#0E0E0E;font-weight:bold;letter-spacing:0.8px;transform:scaleX(0.552) translateX(-50%)">Your name here</div><svg style="left:358.3px;top:368.56px" width="48" height="34"><use href="#boot"/></svg><div class="t" style="left:457.5px;top:371.49px;font-size:14.5px;line-height:14.5px;color:#0E0E0E;font-weight:bold;letter-spacing:0.8px;transform:scaleX(0.552) translateX(-50%)">Votre nom ici</div><div class="t" style="left:457.5px;top:384.49px;font-size:14.5px;line-height:14.5px;color:#0E0E0E;font-weight:bold;letter-spacing:0.8px;transform:scaleX(0.552) translateX(-50%)">Your name here</div><svg style="left:358.3px;top:401.24px" width="48" height="34"><use href="#boot"/></svg><div class="t" style="left:457.5px;top:404.16px;font-size:14.5px;line-height:14.5px;color:#0E0E0E;font-weight:bold;letter-spacing:0.8px;transform:scaleX(0.552) translateX(-50%)">Votre nom ici</div><div class="t" style="left:457.5px;top:417.16px;font-size:14.5px;line-height:14.5px;color:#0E0E0E;font-weight:bold;letter-spacing:0.8px;transform:scaleX(0.552) translateX(-50%)">Your name here</div><svg style="left:358.3px;top:433.91px" width="48" height="34"><use href="#boot"/></svg><div class="t" style="left:457.5px;top:436.84px;font-size:14.5px;line-height:14.5px;color:#0E0E0E;font-weight:bold;letter-spacing:0.8px;transform:scaleX(0.552) translateX(-50%)">Votre nom ici</div><div class="t" style="left:457.5px;top:449.84px;font-size:14.5px;line-height:14.5px;color:#0E0E0E;font-weight:bold;letter-spacing:0.8px;transform:scaleX(0.552) translateX(-50%)">Your name here</div><svg style="left:358.3px;top:466.58px" width="48" height="34"><use href="#boot"/></svg><div class="t" style="left:457.5px;top:469.51px;font-size:14.5px;line-height:14.5px;color:#0E0E0E;font-weight:bold;letter-spacing:0.8px;transform:scaleX(0.552) translateX(-50%)">Votre nom ici</div><div class="t" style="left:457.5px;top:482.51px;font-size:14.5px;line-height:14.5px;color:#0E0E0E;font-weight:bold;letter-spacing:0.8px;transform:scaleX(0.552) translateX(-50%)">Your name here</div><svg style="left:358.3px;top:499.26px" width="48" height="34"><use href="#boot"/></svg><div class="t" style="left:457.5px;top:502.18px;font-size:14.5px;line-height:14.5px;color:#0E0E0E;font-weight:bold;letter-spacing:0.8px;transform:scaleX(0.552) translateX(-50%)">Votre nom ici</div><div class="t" style="left:457.5px;top:515.18px;font-size:14.5px;line-height:14.5px;color:#0E0E0E;font-weight:bold;letter-spacing:0.8px;transform:scaleX(0.552) translateX(-50%)">Your name here</div><svg style="left:358.3px;top:531.93px" width="48" height="34"><use href="#boot"/></svg><div class="t" style="left:457.5px;top:534.86px;font-size:14.5px;line-height:14.5px;color:#0E0E0E;font-weight:bold;letter-spacing:0.8px;transform:scaleX(0.552) translateX(-50%)">Votre nom ici</div><div class="t" style="left:457.5px;top:547.86px;font-size:14.5px;line-height:14.5px;color:#0E0E0E;font-weight:bold;letter-spacing:0.8px;transform:scaleX(0.552) translateX(-50%)">Your name here</div><svg style="left:358.3px;top:564.61px" width="48" height="34"><use href="#boot"/></svg><div class="t" style="left:457.5px;top:567.53px;font-size:14.5px;line-height:14.5px;color:#0E0E0E;font-weight:bold;letter-spacing:0.8px;transform:scaleX(0.552) translateX(-50%)">Votre nom ici</div><div class="t" style="left:457.5px;top:580.53px;font-size:14.5px;line-height:14.5px;color:#0E0E0E;font-weight:bold;letter-spacing:0.8px;transform:scaleX(0.552) translateX(-50%)">Your name here</div><svg style="left:358.3px;top:597.28px" width="48" height="34"><use href="#boot"/></svg><div class="t" style="left:457.5px;top:600.2px;font-size:14.5px;line-height:14.5px;color:#0E0E0E;font-weight:bold;letter-spacing:0.8px;transform:scaleX(0.552) translateX(-50%)">Votre nom ici</div><div class="t" style="left:457.5px;top:613.2px;font-size:14.5px;line-height:14.5px;color:#0E0E0E;font-weight:bold;letter-spacing:0.8px;transform:scaleX(0.552) translateX(-50%)">Your name here</div><svg style="left:358.3px;top:629.95px" width="48" height="34"><use href="#boot"/></svg><div class="t" style="left:457.5px;top:632.88px;font-size:14.5px;line-height:14.5px;color:#0E0E0E;font-weight:bold;letter-spacing:0.8px;transform:scaleX(0.552) translateX(-50%)">Votre nom ici</div><div class="t" style="left:457.5px;top:645.88px;font-size:14.5px;line-height:14.5px;color:#0E0E0E;font-weight:bold;letter-spacing:0.8px;transform:scaleX(0.552) translateX(-50%)">Your name here</div><svg style="left:358.3px;top:662.63px" width="48" height="34"><use href="#boot"/></svg><div class="t" style="left:457.5px;top:665.55px;font-size:14.5px;line-height:14.5px;color:#0E0E0E;font-weight:bold;letter-spacing:0.8px;transform:scaleX(0.552) translateX(-50%)">Votre nom ici</div><div class="t" style="left:457.5px;top:678.55px;font-size:14.5px;line-height:14.5px;color:#0E0E0E;font-weight:bold;letter-spacing:0.8px;transform:scaleX(0.552) translateX(-50%)">Your name here</div><div class="sh" style="left:553px;top:81px;width:95.3px;height:622px;overflow:hidden"><svg style="left:0;top:0" width="95.3" height="622"><rect width="95.3" height="622" fill="#F8D4DF"/><line x1="0" x2="95.3" y1="6.4" y2="6.4" stroke="#EBA9C8" stroke-width="1"/><line x1="0" x2="95.3" y1="93.5" y2="93.5" stroke="#EBA9C8" stroke-width="1"/><line x1="0" x2="95.3" y1="180.6" y2="180.6" stroke="#EBA9C8" stroke-width="1"/><line x1="0" x2="95.3" y1="267.7" y2="267.7" stroke="#EBA9C8" stroke-width="1"/><line x1="0" x2="95.3" y1="354.8" y2="354.8" stroke="#EBA9C8" stroke-width="1"/><line x1="0" x2="95.3" y1="441.9" y2="441.9" stroke="#EBA9C8" stroke-width="1"/><line x1="0" x2="95.3" y1="529" y2="529" stroke="#EBA9C8" stroke-width="1"/><line x1="0" x2="95.3" y1="616.1" y2="616.1" stroke="#EBA9C8" stroke-width="1"/><use href="#fp" x="6.9" y="-8.66"/><use href="#fw" x="33.67" y="-8.66"/><use href="#fp" x="60.44" y="-8.66"/><use href="#fw" x="87.21" y="-8.66"/><use href="#fw" x="6.9" y="18"/><use href="#fp" x="33.67" y="18"/><use href="#fw" x="60.44" y="18"/><use href="#fp" x="87.21" y="18"/><use href="#fp" x="6.9" y="44.66"/><use href="#fw" x="33.67" y="44.66"/><use href="#fp" x="60.44" y="44.66"/><use href="#fw" x="87.21" y="44.66"/><use href="#fw" x="6.9" y="71.32"/><use href="#fp" x="33.67" y="71.32"/><use href="#fw" x="60.44" y="71.32"/><use href="#fp" x="87.21" y="71.32"/><use href="#fp" x="6.9" y="97.98"/><use href="#fw" x="33.67" y="97.98"/><use href="#fp" x="60.44" y="97.98"/><use href="#fw" x="87.21" y="97.98"/><use href="#fw" x="6.9" y="124.64"/><use href="#fp" x="33.67" y="124.64"/><use href="#fw" x="60.44" y="124.64"/><use href="#fp" x="87.21" y="124.64"/><use href="#fp" x="6.9" y="151.3"/><use href="#fw" x="33.67" y="151.3"/><use href="#fp" x="60.44" y="151.3"/><use href="#fw" x="87.21" y="151.3"/><use href="#fw" x="6.9" y="177.96"/><use href="#fp" x="33.67" y="177.96"/><use href="#fw" x="60.44" y="177.96"/><use href="#fp" x="87.21" y="177.96"/><use href="#fp" x="6.9" y="204.62"/><use href="#fw" x="33.67" y="204.62"/><use href="#fp" x="60.44" y="204.62"/><use href="#fw" x="87.21" y="204.62"/><use href="#fw" x="6.9" y="231.28"/><use href="#fp" x="33.67" y="231.28"/><use href="#fw" x="60.44" y="231.28"/><use href="#fp" x="87.21" y="231.28"/><use href="#fp" x="6.9" y="257.94"/><use href="#fw" x="33.67" y="257.94"/><use href="#fp" x="60.44" y="257.94"/><use href="#fw" x="87.21" y="257.94"/><use href="#fw" x="6.9" y="284.6"/><use href="#fp" x="33.67" y="284.6"/><use href="#fw" x="60.44" y="284.6"/><use href="#fp" x="87.21" y="284.6"/><use href="#fp" x="6.9" y="311.26"/><use href="#fw" x="33.67" y="311.26"/><use href="#fp" x="60.44" y="311.26"/><use href="#fw" x="87.21" y="311.26"/><use href="#fw" x="6.9" y="337.92"/><use href="#fp" x="33.67" y="337.92"/><use href="#fw" x="60.44" y="337.92"/><use href="#fp" x="87.21" y="337.92"/><use href="#fp" x="6.9" y="364.58"/><use href="#fw" x="33.67" y="364.58"/><use href="#fp" x="60.44" y="364.58"/><use href="#fw" x="87.21" y="364.58"/><use href="#fw" x="6.9" y="391.24"/><use href="#fp" x="33.67" y="391.24"/><use href="#fw" x="60.44" y="391.24"/><use href="#fp" x="87.21" y="391.24"/><use href="#fp" x="6.9" y="417.9"/><use href="#fw" x="33.67" y="417.9"/><use href="#fp" x="60.44" y="417.9"/><use href="#fw" x="87.21" y="417.9"/><use href="#fw" x="6.9" y="444.56"/><use href="#fp" x="33.67" y="444.56"/><use href="#fw" x="60.44" y="444.56"/><use href="#fp" x="87.21" y="444.56"/><use href="#fp" x="6.9" y="471.22"/><use href="#fw" x="33.67" y="471.22"/><use href="#fp" x="60.44" y="471.22"/><use href="#fw" x="87.21" y="471.22"/><use href="#fw" x="6.9" y="497.88"/><use href="#fp" x="33.67" y="497.88"/><use href="#fw" x="60.44" y="497.88"/><use href="#fp" x="87.21" y="497.88"/><use href="#fp" x="6.9" y="524.54"/><use href="#fw" x="33.67" y="524.54"/><use href="#fp" x="60.44" y="524.54"/><use href="#fw" x="87.21" y="524.54"/><use href="#fw" x="6.9" y="551.2"/><use href="#fp" x="33.67" y="551.2"/><use href="#fw" x="60.44" y="551.2"/><use href="#fp" x="87.21" y="551.2"/><use href="#fp" x="6.9" y="577.86"/><use href="#fw" x="33.67" y="577.86"/><use href="#fp" x="60.44" y="577.86"/><use href="#fw" x="87.21" y="577.86"/><use href="#fw" x="6.9" y="604.52"/><use href="#fp" x="33.67" y="604.52"/><use href="#fw" x="60.44" y="604.52"/><use href="#fp" x="87.21" y="604.52"/><use href="#fp" x="6.9" y="631.18"/><use href="#fw" x="33.67" y="631.18"/><use href="#fp" x="60.44" y="631.18"/><use href="#fw" x="87.21" y="631.18"/><use href="#fw" x="6.9" y="657.84"/><use href="#fp" x="33.67" y="657.84"/><use href="#fw" x="60.44" y="657.84"/><use href="#fp" x="87.21" y="657.84"/></svg></div><svg style="left:553px;top:81px" width="240" height="622"><path d="M95.3,6.4 H231.5 Q234.5,6.4 234.5,9.4 V90.5 Q234.5,93.5 231.5,93.5 H95.3" fill="none" stroke="#C0869A" stroke-width="1"/><path d="M95.3,93.5 H231.5 Q234.5,93.5 234.5,96.5 V177.6 Q234.5,180.6 231.5,180.6 H95.3" fill="none" stroke="#C0869A" stroke-width="1"/><path d="M95.3,180.6 H231.5 Q234.5,180.6 234.5,183.6 V264.7 Q234.5,267.7 231.5,267.7 H95.3" fill="none" stroke="#C0869A" stroke-width="1"/><path d="M95.3,267.7 H231.5 Q234.5,267.7 234.5,270.7 V351.8 Q234.5,354.8 231.5,354.8 H95.3" fill="none" stroke="#C0869A" stroke-width="1"/><path d="M95.3,354.8 H231.5 Q234.5,354.8 234.5,357.8 V438.9 Q234.5,441.9 231.5,441.9 H95.3" fill="none" stroke="#C0869A" stroke-width="1"/><path d="M95.3,441.9 H231.5 Q234.5,441.9 234.5,444.9 V526 Q234.5,529 231.5,529 H95.3" fill="none" stroke="#C0869A" stroke-width="1"/><path d="M95.3,529 H231.5 Q234.5,529 234.5,532 V613.1 Q234.5,616.1 231.5,616.1 H95.3" fill="none" stroke="#C0869A" stroke-width="1"/></svg><div class="t" style="left:716.5px;top:116.84px;font-size:18.5px;line-height:18.5px;color:#150D10;font-weight:bold;letter-spacing:1.0px;transform:scaleX(0.585) translateX(-50%)">Votre nom ici</div><div class="t" style="left:716.5px;top:136.04px;font-size:18.5px;line-height:18.5px;color:#150D10;font-weight:bold;letter-spacing:1.0px;transform:scaleX(0.585) translateX(-50%)">Your name here</div><div class="t" style="left:716.5px;top:203.94px;font-size:18.5px;line-height:18.5px;color:#150D10;font-weight:bold;letter-spacing:1.0px;transform:scaleX(0.585) translateX(-50%)">Votre nom ici</div><div class="t" style="left:716.5px;top:223.14px;font-size:18.5px;line-height:18.5px;color:#150D10;font-weight:bold;letter-spacing:1.0px;transform:scaleX(0.585) translateX(-50%)">Your name here</div><div class="t" style="left:716.5px;top:291.04px;font-size:18.5px;line-height:18.5px;color:#150D10;font-weight:bold;letter-spacing:1.0px;transform:scaleX(0.585) translateX(-50%)">Votre nom ici</div><div class="t" style="left:716.5px;top:310.24px;font-size:18.5px;line-height:18.5px;color:#150D10;font-weight:bold;letter-spacing:1.0px;transform:scaleX(0.585) translateX(-50%)">Your name here</div><div class="t" style="left:716.5px;top:378.14px;font-size:18.5px;line-height:18.5px;color:#150D10;font-weight:bold;letter-spacing:1.0px;transform:scaleX(0.585) translateX(-50%)">Votre nom ici</div><div class="t" style="left:716.5px;top:397.34px;font-size:18.5px;line-height:18.5px;color:#150D10;font-weight:bold;letter-spacing:1.0px;transform:scaleX(0.585) translateX(-50%)">Your name here</div><div class="t" style="left:716.5px;top:465.24px;font-size:18.5px;line-height:18.5px;color:#150D10;font-weight:bold;letter-spacing:1.0px;transform:scaleX(0.585) translateX(-50%)">Votre nom ici</div><div class="t" style="left:716.5px;top:484.44px;font-size:18.5px;line-height:18.5px;color:#150D10;font-weight:bold;letter-spacing:1.0px;transform:scaleX(0.585) translateX(-50%)">Your name here</div><div class="t" style="left:716.5px;top:552.34px;font-size:18.5px;line-height:18.5px;color:#150D10;font-weight:bold;letter-spacing:1.0px;transform:scaleX(0.585) translateX(-50%)">Votre nom ici</div><div class="t" style="left:716.5px;top:571.54px;font-size:18.5px;line-height:18.5px;color:#150D10;font-weight:bold;letter-spacing:1.0px;transform:scaleX(0.585) translateX(-50%)">Your name here</div><div class="t" style="left:716.5px;top:639.44px;font-size:18.5px;line-height:18.5px;color:#150D10;font-weight:bold;letter-spacing:1.0px;transform:scaleX(0.585) translateX(-50%)">Votre nom ici</div><div class="t" style="left:716.5px;top:658.64px;font-size:18.5px;line-height:18.5px;color:#150D10;font-weight:bold;letter-spacing:1.0px;transform:scaleX(0.585) translateX(-50%)">Your name here</div><div class="t f" style="left:58px;top:718.76px;font-size:8.2px;line-height:8.2px;color:#222;font-weight:bold;transform:scaleX(0.8685)">© Référez-vous au guide fourni pour l’application de ces étiquettes. / © Please refer to user’s guide before using labels.</div></body></html>
